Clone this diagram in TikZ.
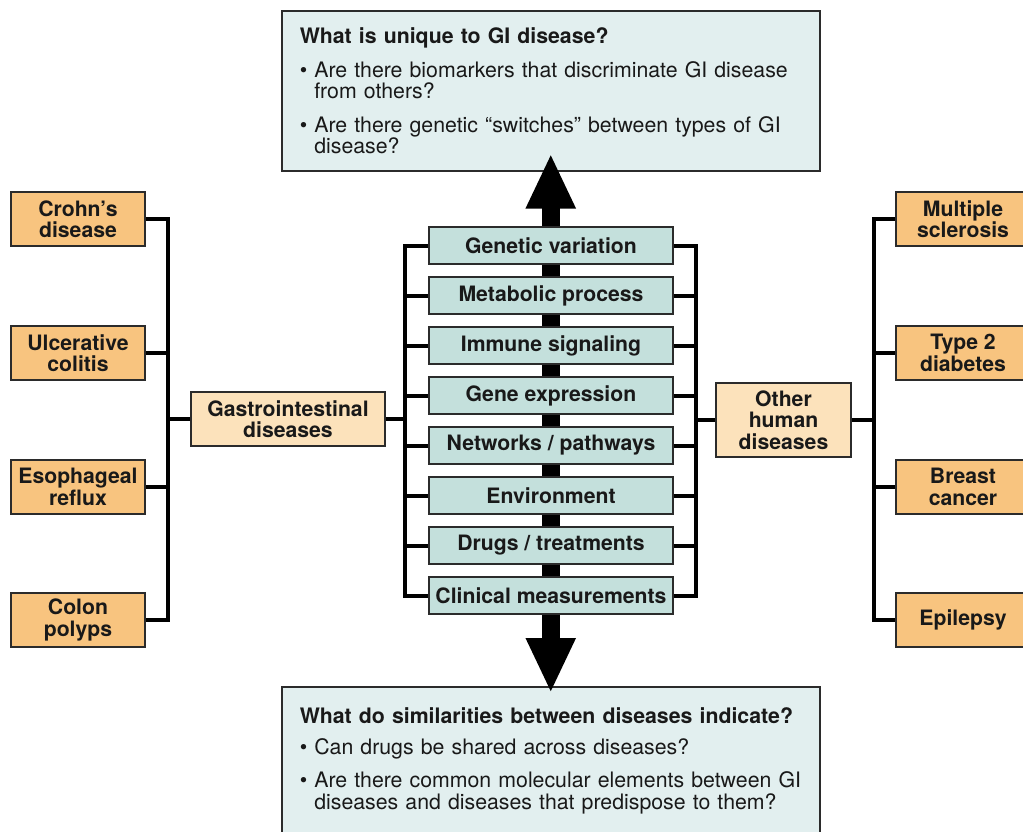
\documentclass[tikz,border=0pt]{standalone}
\usepackage{fontspec}
\setmainfont{TeX Gyre Heros}
\usetikzlibrary{arrows.meta, positioning, calc}
\definecolor{dzorange}{HTML}{F8C47F}
\definecolor{dzlight}{HTML}{FCE2BB}
\definecolor{dzteal}{HTML}{C4E0DC}
\definecolor{qbox}{HTML}{E2EFEF}
\definecolor{edge}{HTML}{2B2B2B}

\begin{document}
\begin{tikzpicture}[x=1pt, y=-1pt,
	box/.style={draw=edge, line width=1.5pt, text=black!90, inner sep=0pt, align=center, font=\fontsize{21.2}{21.5}\selectfont\bfseries},
	disease/.style={box, fill=dzorange, minimum width=134pt, minimum height=54pt},
	group/.style={box, fill=dzlight},
	factor/.style={box, fill=dzteal, minimum width=244pt, minimum height=37pt},
	question/.style={draw=edge, line width=1.5pt, fill=qbox, anchor=north west, minimum width=538pt, text width=502pt, align=left, inner xsep=18pt, inner ysep=0pt, text=black!90, font=\fontsize{21.3}{21.5}\selectfont},
	link/.style={line width=4pt},
	shaft/.style={line width=18pt, {Triangle[length=55pt, width=46pt]}-{Triangle[length=55pt, width=46pt]}}]
	\useasboundingbox (0,0) rectangle (1023,831);

	% question boxes
	\node[question, minimum height=160pt] (unique) at (281,10) {\textbf{What is unique to GI disease?}\\[12pt]
		\mbox{• Are there biomarkers that discriminate GI disease}\\
		\hphantom{• }from others?\\[12pt]
		\mbox{• Are there genetic “switches” between types of GI}\\
		\hphantom{• }disease?};
	\node[question, minimum height=148pt] (similar) at (281,686) {\mbox{\textbf{What do similarities between diseases indicate?}}\\[9pt]
		• Can drugs be shared across diseases?\\[12pt]
		\mbox{• Are there common molecular elements between GI}\\
		\mbox{\hphantom{• }diseases and diseases that predispose to them?}};

	% central double arrow
	\coordinate (uptip) at ($(unique.south)+(0,-18)$);
	\coordinate (downtip) at ($(similar.north)+(0,7)$);
	\draw[shaft] (downtip) -- (uptip);

	% shared factors
	\foreach \lbl [count=\i] in {Genetic variation, Metabolic process, Immune signaling, Gene expression, Networks / pathways, Environment, Drugs / treatments, Clinical measurements}
		\node[factor] (f\i) at (551,195.5+50*\i) {\lbl};

	% disease groups
	\node[group, minimum width=194pt, minimum height=54pt] (gi) at (288,419) {Gastrointestinal\\diseases};
	\node[group, minimum width=135pt, minimum height=74pt] (other) at (783.5,420) {Other\\human\\diseases};

	\foreach \lbl/\yy [count=\i] in {{Crohn’s\\disease}/219, {Ulcerative\\colitis}/353, {Esophageal\\reflux}/487, {Colon\\polyps}/620}
		\node[disease] (gd\i) at (78,\yy) {\lbl};
	\foreach \lbl/\yy [count=\i] in {{Multiple\\sclerosis}/219, {Type 2\\diabetes}/353, {Breast\\cancer}/487, {Epilepsy}/620}
		\node[disease] (od\i) at (963,\yy) {\lbl};

	% brackets
	\coordinate (lspine) at (168,419);
	\coordinate (cl) at (405,419);
	\coordinate (cr) at (696,420);
	\coordinate (rspine) at (874,420);

	\draw[link] (gd1.east) -| (lspine) |- (gd4.east);
	\foreach \i in {2,3} \draw[link] (gd\i.east) -- (gd\i.east -| lspine);
	\draw[link] (gi.west) -- (gi.west -| lspine);

	\draw[link] (f1.west) -| (cl) |- (f8.west);
	\draw[link] (f1.east) -| (cr) |- (f8.east);
	\foreach \i in {2,...,7} {
		\draw[link] (f\i.west) -- (f\i.west -| cl);
		\draw[link] (f\i.east) -- (f\i.east -| cr);
	}
	\draw[link] (gi.east) -- (gi.east -| cl);
	\draw[link] (other.west) -- (other.west -| cr);

	\draw[link] (od1.west) -| (rspine) |- (od4.west);
	\foreach \i in {2,3} \draw[link] (od\i.west) -- (od\i.west -| rspine);
	\draw[link] (other.east) -- (other.east -| rspine);
\end{tikzpicture}
\end{document}
